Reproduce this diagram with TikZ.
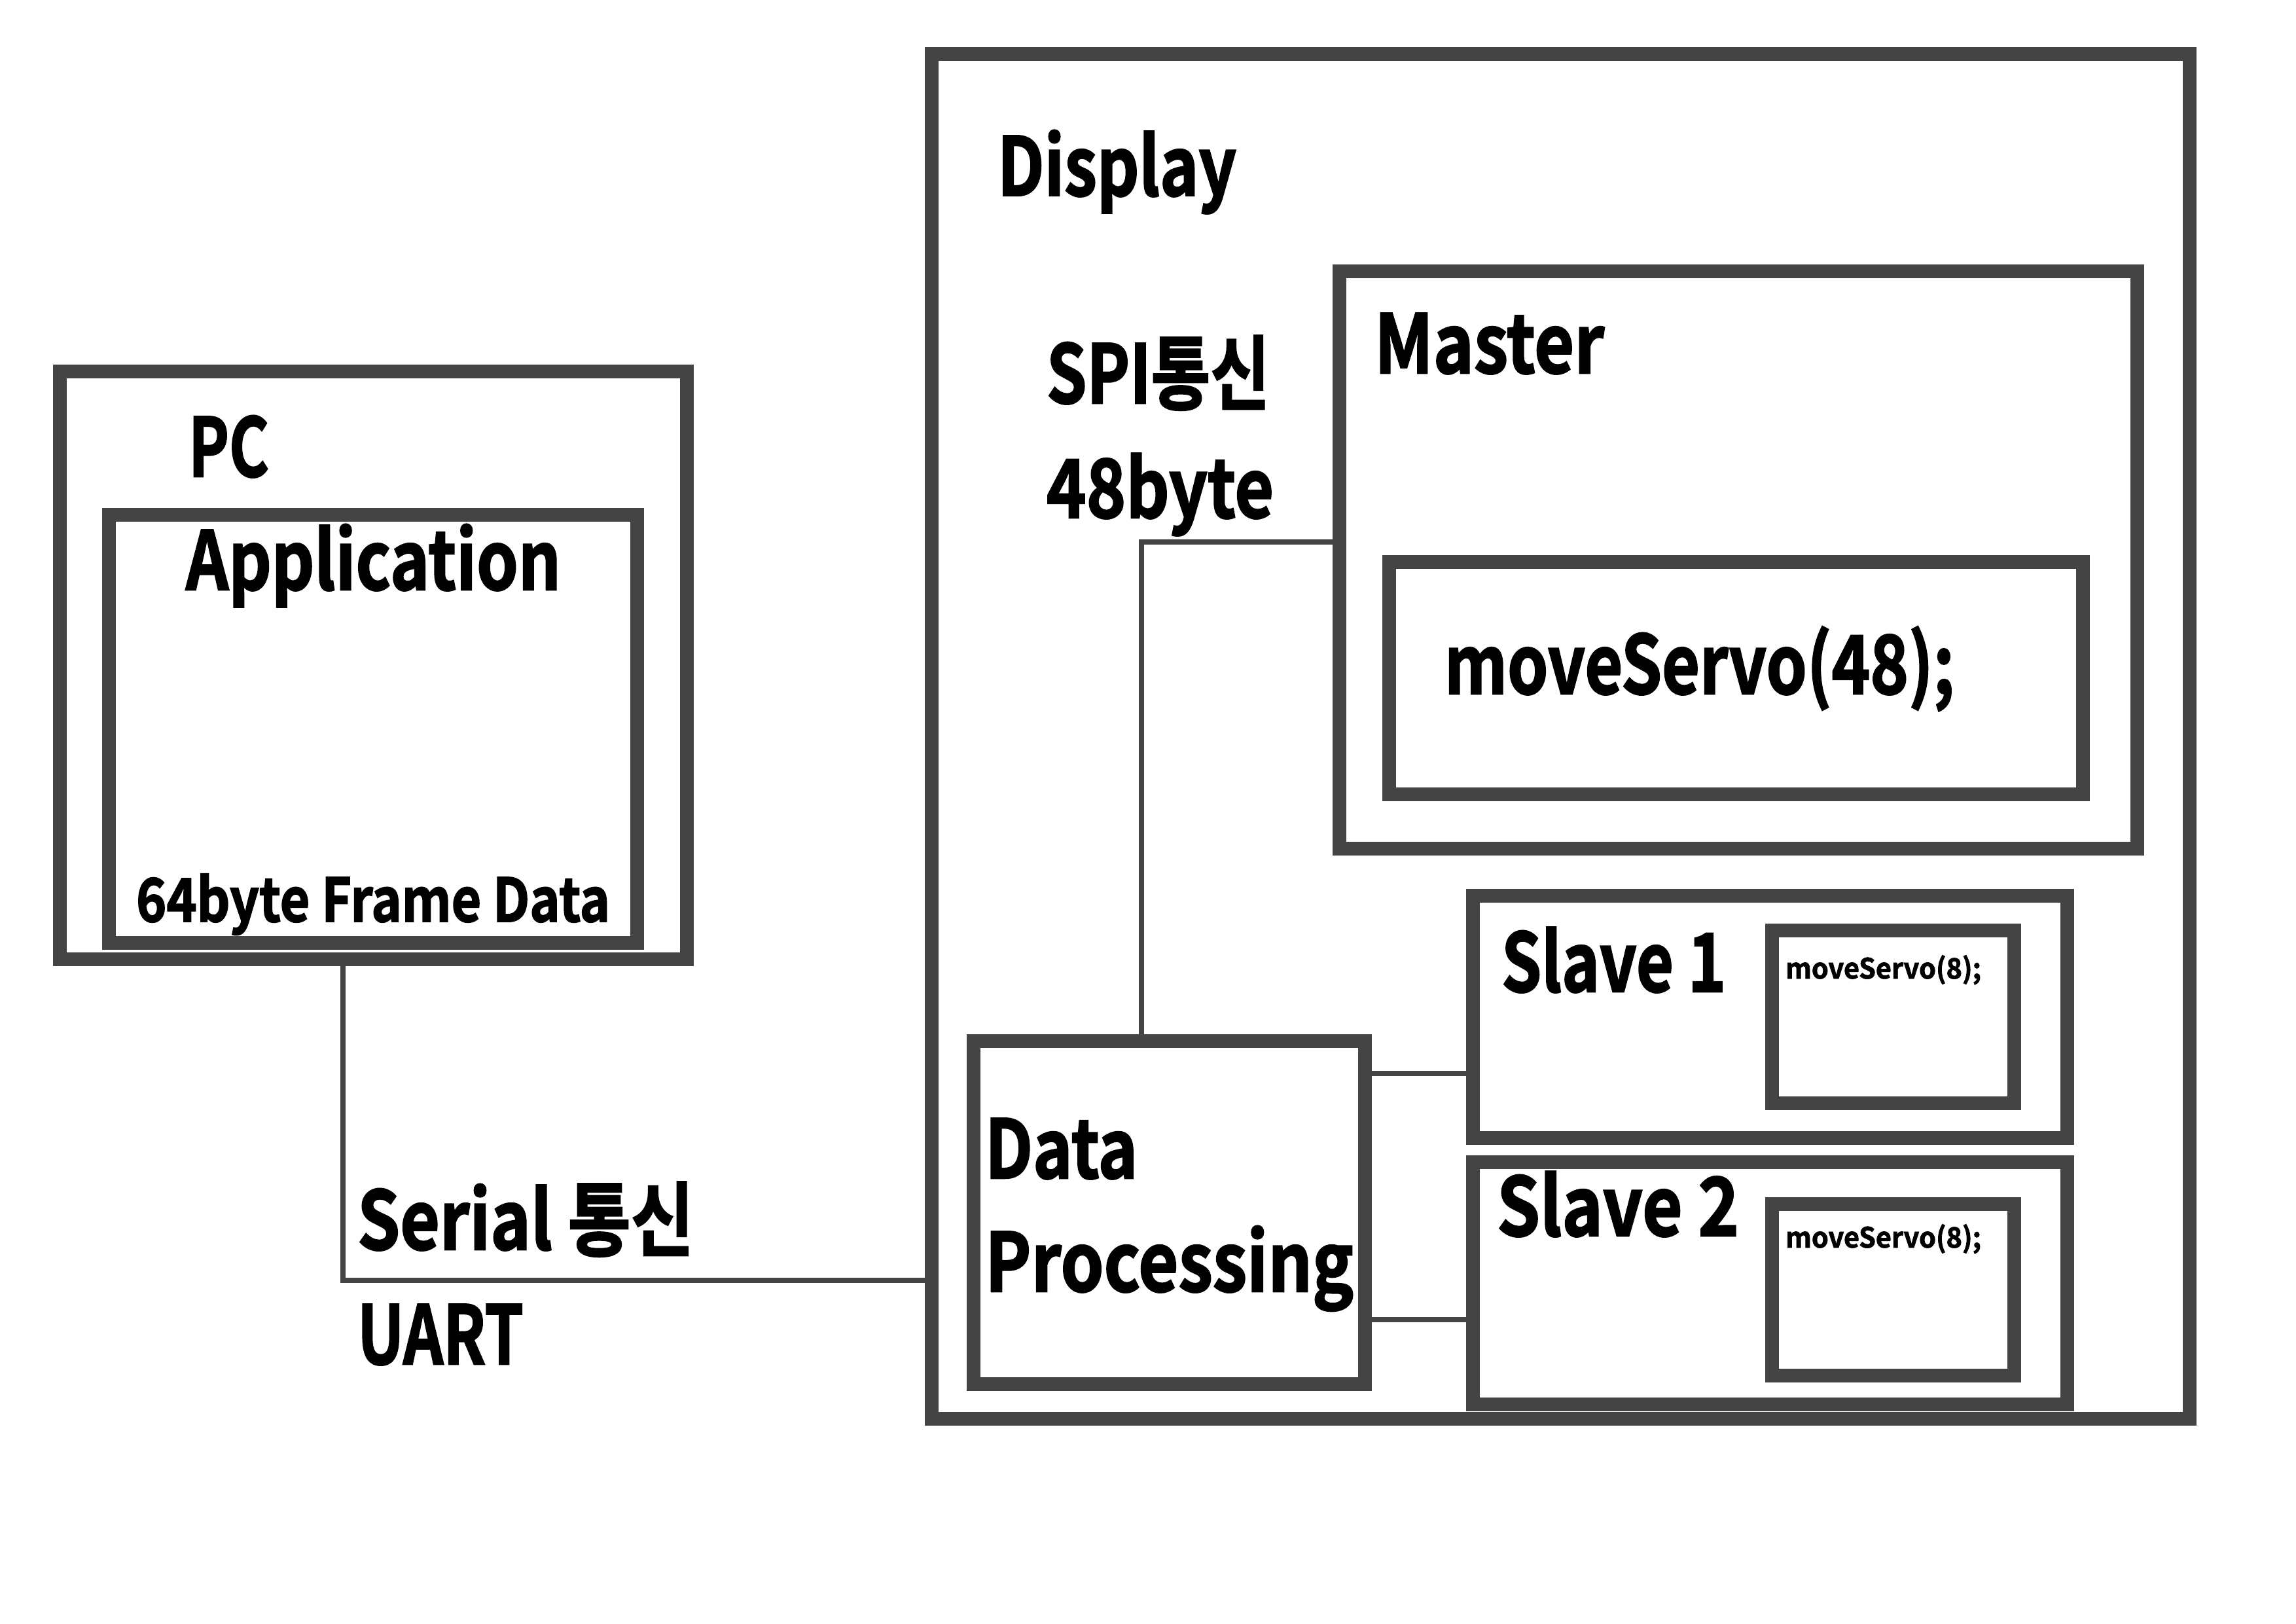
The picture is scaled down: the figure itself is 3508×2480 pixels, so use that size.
\documentclass[tikz,border=0pt]{standalone}
\usepackage{fontspec}
\setmainfont{Noto Sans CJK KR}[BoldFont={* Bold}, BoldFeatures={FakeBold=2}]
\usetikzlibrary{fit}
\newdimen\upx \upx=0.24pt
\newcommand\tw[2]{\resizebox{#1\upx}{\height}{#2}}
\definecolor{boxgray}{HTML}{444444}
\tikzset{
  boxst/.style={draw=boxgray, line width=5.04pt, inner sep=0pt, fill=none},
  conn/.style={draw=boxgray, line width=1.92pt},
  lbl/.style={anchor=base west, inner sep=0pt, outer sep=0pt, text=black,
    font=\bfseries\fontsize{29.7}{32}\selectfont},
  lblm/.style={lbl, font=\bfseries\fontsize{22}{24}\selectfont},
  lbls/.style={lbl, font=\bfseries\fontsize{10.3}{12}\selectfont},
}
\begin{document}
\begin{tikzpicture}[x=0.24pt, y=-0.24pt]
\fill[white] (0,0) rectangle (3508,2480);
\useasboundingbox (0,0) rectangle (3508,2480);

% boxes
\node[boxst, fit={(91,567) (1049,1465)}] (pc) {};
\node[boxst, fit={(166,786) (973,1440)}] (app) {};
\node[boxst, fit={(1423,82) (3345,2167)}] (disp) {};
\node[boxst, fit={(2046,414) (3265,1296)}] (master) {};
\node[boxst, fit={(2122,858) (3182,1213)}] (m48) {};
\node[boxst, fit={(1487,1590) (2085,2114)}] (dp) {};
\node[boxst, fit={(2250,1368) (3158,1738)}] (s1) {};
\node[boxst, fit={(2707,1421) (3077,1685)}] (s1i) {};
\node[boxst, fit={(2250,1775) (3158,2145)}] (s2) {};
\node[boxst, fit={(2707,1839) (3077,2101)}] (s2i) {};

% connectors
\coordinate (cx) at (524,1956);
\draw[conn] (pc.south -| cx) |- (disp.west |- cx);
\coordinate (sx) at (1744,828);
\draw[conn] (master.west |- sx) -| (dp.north -| sx);
\coordinate (ya) at (2100,1640);
\coordinate (yb) at (2100,2016);
\draw[conn] (dp.east |- ya) -- (s1.west |- ya);
\draw[conn] (dp.east |- yb) -- (s2.west |- yb);

% labels
\node[lbl] (tpc) at (288,728) {\tw{123}{PC}};
\node[lbl] (tapp) at (284,901) {\tw{573}{Application}};
\node[lblm] (tframe) at (208,1408) {\tw{724}{64byte Frame Data}};
\node[lbl] (tdisp) at (1524,299) {\tw{365}{Display}};
\node[lbl] (tspi) at (1599,616) {\tw{341}{SPI통신}};
\node[lbl] (t48) at (1599,791) {\tw{347}{48byte}};
\node[lbl] (tmaster) at (2100,570) {\tw{351}{Master}};
\node[lbl] (tm48) at (2207,1060) {\tw{779}{moveServo(48);}};
\node[lbl] (tdata) at (1505,1800) {\tw{233}{Data}};
\node[lbl] (tproc) at (1505,1973) {\tw{563}{Processing}};
\node[lbl] (ts1) at (2294,1515) {\tw{343}{Slave 1}};
\node[lbl] (ts2) at (2287,1888) {\tw{370}{Slave 2}};
\node[lbls] (ts1m) at (2728,1495) {\tw{299}{moveServo(8);}};
\node[lbls] (ts2m) at (2728,1906) {\tw{299}{moveServo(8);}};
\node[lbl] (tser) at (546,1909) {\tw{514}{Serial 통신}};
\node[lbl] (tuart) at (546,2084) {\tw{254}{UART}};
\end{tikzpicture}
\end{document}
